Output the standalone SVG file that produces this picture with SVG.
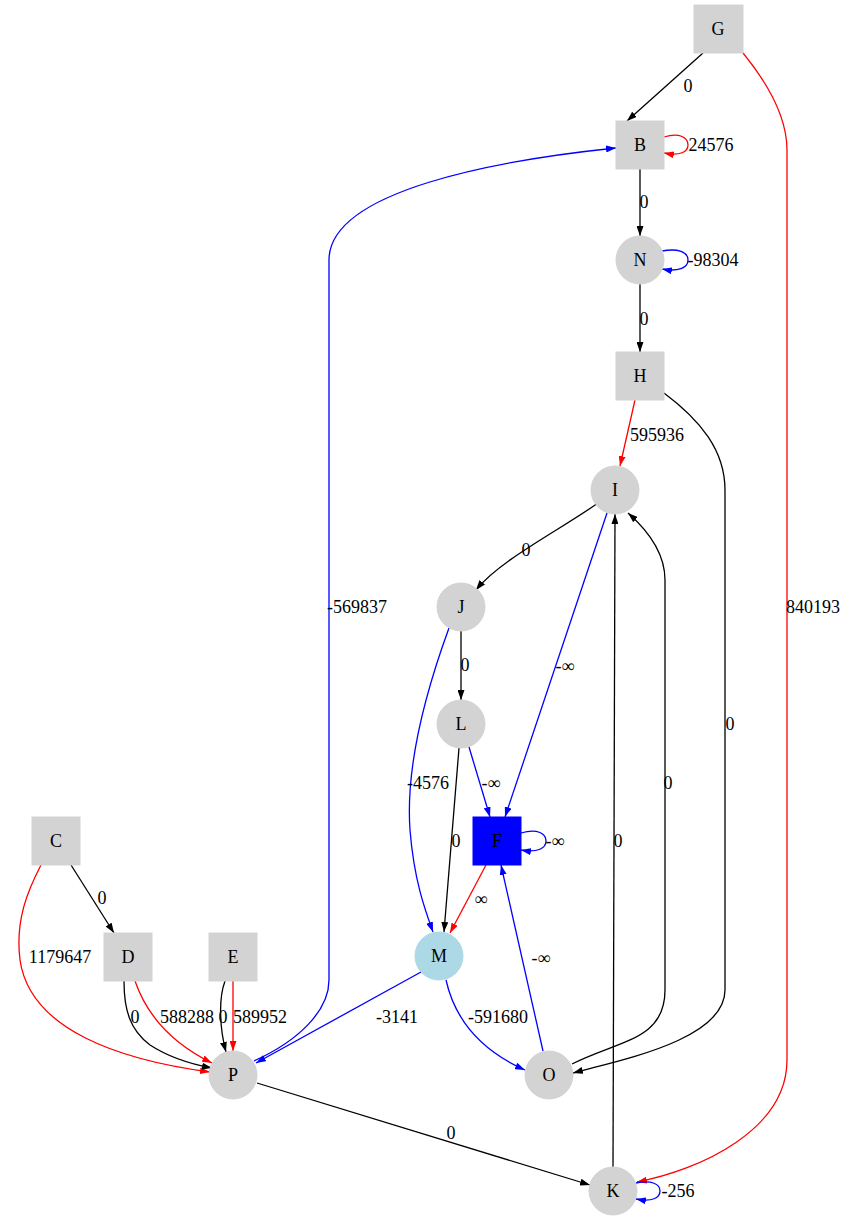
<svg xmlns="http://www.w3.org/2000/svg" width="847" height="1221" viewBox="0 0 847 1221" font-family="'Liberation Serif', 'Times New Roman', 'DejaVu Serif', serif" font-size="18">
<style>
text{font-family:"Liberation Serif","Times New Roman","DejaVu Serif",serif;font-size:18px;fill:#000;stroke:none}
.n text{text-anchor:middle}
.g{fill:#d3d3d3;stroke:#d3d3d3}
.e path{fill:none;stroke-width:1.3}
.k{stroke:#000}
.r{stroke:#f00}
.b{stroke:#00f}
.lbl text{text-anchor:middle}
</style>
<defs>
<marker id="ak" viewBox="0 0 10 7" refX="10" refY="3.5" markerWidth="10" markerHeight="7" markerUnits="userSpaceOnUse" orient="auto"><path d="M0,0 L10,3.5 L0,7 z" fill="#000"/></marker>
<marker id="ar" viewBox="0 0 10 7" refX="10" refY="3.5" markerWidth="10" markerHeight="7" markerUnits="userSpaceOnUse" orient="auto"><path d="M0,0 L10,3.5 L0,7 z" fill="#f00"/></marker>
<marker id="ab" viewBox="0 0 10 7" refX="10" refY="3.5" markerWidth="10" markerHeight="7" markerUnits="userSpaceOnUse" orient="auto"><path d="M0,0 L10,3.5 L0,7 z" fill="#00f"/></marker>
</defs>
<rect width="847" height="1221" fill="#fff"/>
<g id="edges" class="e">
<path class="k" d="M703,53 L627,121" marker-end="url(#ak)"/>
<path class="r" d="M743,53 C765,80 787,115 787,150 L787,1060 C787,1130 700,1170 637,1182" marker-end="url(#ar)"/>
<path class="r" d="M664,137 C680,132 688,138 688,145 C688,152 680,156 664,153" marker-end="url(#ar)"/>
<path class="k" d="M640,169 L640,236" marker-end="url(#ak)"/>
<path class="b" d="M662,251 C678,248 688,252 688,260 C688,268 678,272 662,269" marker-end="url(#ab)"/>
<path class="k" d="M640,284 L640,352" marker-end="url(#ak)"/>
<path class="r" d="M635,400 L620,466" marker-end="url(#ar)"/>
<path class="k" d="M664,393 C700,420 725,450 725,490 L725,990 C725,1040 620,1060 573,1073" marker-end="url(#ak)"/>
<path class="k" d="M598,503 C560,530 500,560 476,590" marker-end="url(#ak)"/>
<path class="b" d="M607,513 L505,817" marker-end="url(#ab)"/>
<path class="k" d="M461,631 L461,700" marker-end="url(#ak)"/>
<path class="b" d="M449,628 C430,680 405,760 410,830 C414,880 425,910 433,932" marker-end="url(#ab)"/>
<path class="b" d="M469,747 L490,817" marker-end="url(#ab)"/>
<path class="k" d="M459,748 L444,932" marker-end="url(#ak)"/>
<path class="b" d="M521,833 C538,828 546,834 546,841 C546,848 538,853 521,850" marker-end="url(#ab)"/>
<path class="r" d="M486,865 L450,933" marker-end="url(#ar)"/>
<path class="b" d="M421,972 L256,1063" marker-end="url(#ab)"/>
<path class="b" d="M446,980 C455,1020 480,1050 525,1070" marker-end="url(#ab)"/>
<path class="b" d="M543,1051 L501,865" marker-end="url(#ab)"/>
<path class="k" d="M572,1064 C620,1040 665,1040 665,990 L665,580 C665,550 645,528 628,513" marker-end="url(#ak)"/>
<path class="k" d="M613,1167 L615,514" marker-end="url(#ak)"/>
<path class="b" d="M636,1183 C652,1180 660,1184 660,1191 C660,1198 652,1202 636,1199" marker-end="url(#ab)"/>
<path class="k" d="M257,1083 L590,1185" marker-end="url(#ak)"/>
<path class="k" d="M71,865 L114,933" marker-end="url(#ak)"/>
<path class="r" d="M41,865 C28,890 15,920 20,960 C30,1030 120,1060 210,1072" marker-end="url(#ar)"/>
<path class="k" d="M124,981 C124,1010 130,1030 150,1045 C170,1058 190,1064 212,1068" marker-end="url(#ak)"/>
<path class="r" d="M135,981 C145,1010 165,1040 212,1063" marker-end="url(#ar)"/>
<path class="k" d="M225,981 C218,1000 220,1030 226,1052" marker-end="url(#ak)"/>
<path class="r" d="M233,981 L233,1051" marker-end="url(#ar)"/>
<path class="b" d="M254,1061 C300,1040 329,1010 329,980 L329,260 C329,190 500,160 616,148" marker-end="url(#ab)"/>
<g class="lbl">
<text x="688" y="92">0</text>
<text x="813" y="613">840193</text>
<text x="711" y="151">24576</text>
<text x="644" y="208">0</text>
<text x="713" y="266">-98304</text>
<text x="644" y="325">0</text>
<text x="657" y="441">595936</text>
<text x="730" y="730">0</text>
<text x="526" y="556">0</text>
<text x="565" y="672">-∞</text>
<text x="465" y="671">0</text>
<text x="428" y="789">-4576</text>
<text x="491" y="789">-∞</text>
<text x="456" y="847">0</text>
<text x="555" y="847">-∞</text>
<text x="481" y="905">∞</text>
<text x="397" y="1023">-3141</text>
<text x="498" y="1023">-591680</text>
<text x="541" y="964">-∞</text>
<text x="668" y="789">0</text>
<text x="618" y="847">0</text>
<text x="678" y="1197">-256</text>
<text x="451" y="1139">0</text>
<text x="102" y="904">0</text>
<text x="60" y="963">1179647</text>
<text x="135" y="1023">0</text>
<text x="187" y="1023">588288</text>
<text x="223" y="1023">0</text>
<text x="260" y="1023">589952</text>
<text x="357" y="613">-569837</text>
</g>
</g>
<g id="G" class="n"><rect class="g" x="694" y="5" width="49" height="48"/><text x="718" y="35">G</text></g>
<g id="B" class="n"><rect class="g" x="616" y="121" width="48" height="48"/><text x="640" y="151">B</text></g>
<g id="N" class="n"><circle class="g" cx="640" cy="260" r="24"/><text x="640" y="266">N</text></g>
<g id="H" class="n"><rect class="g" x="616" y="352" width="48" height="48"/><text x="640" y="382">H</text></g>
<g id="I" class="n"><circle class="g" cx="615" cy="490" r="24"/><text x="615" y="496">I</text></g>
<g id="J" class="n"><circle class="g" cx="461" cy="607" r="24"/><text x="461" y="613">J</text></g>
<g id="L" class="n"><circle class="g" cx="461" cy="724" r="24"/><text x="461" y="730">L</text></g>
<g id="F" class="n"><rect x="473" y="817" width="48" height="48" fill="#00f" stroke="#00f"/><text x="497" y="847">F</text></g>
<g id="M" class="n"><circle cx="439" cy="956" r="24" fill="#add8e6" stroke="#add8e6"/><text x="439" y="962">M</text></g>
<g id="O" class="n"><circle class="g" cx="549" cy="1075" r="24"/><text x="549" y="1081">O</text></g>
<g id="P" class="n"><circle class="g" cx="233" cy="1075" r="24"/><text x="233" y="1081">P</text></g>
<g id="K" class="n"><circle class="g" cx="613" cy="1191" r="24"/><text x="613" y="1197">K</text></g>
<g id="C" class="n"><rect class="g" x="32" y="817" width="48" height="48"/><text x="56" y="847">C</text></g>
<g id="D" class="n"><rect class="g" x="104" y="933" width="48" height="48"/><text x="128" y="963">D</text></g>
<g id="E" class="n"><rect class="g" x="209" y="933" width="48" height="48"/><text x="233" y="963">E</text></g>
</svg>
